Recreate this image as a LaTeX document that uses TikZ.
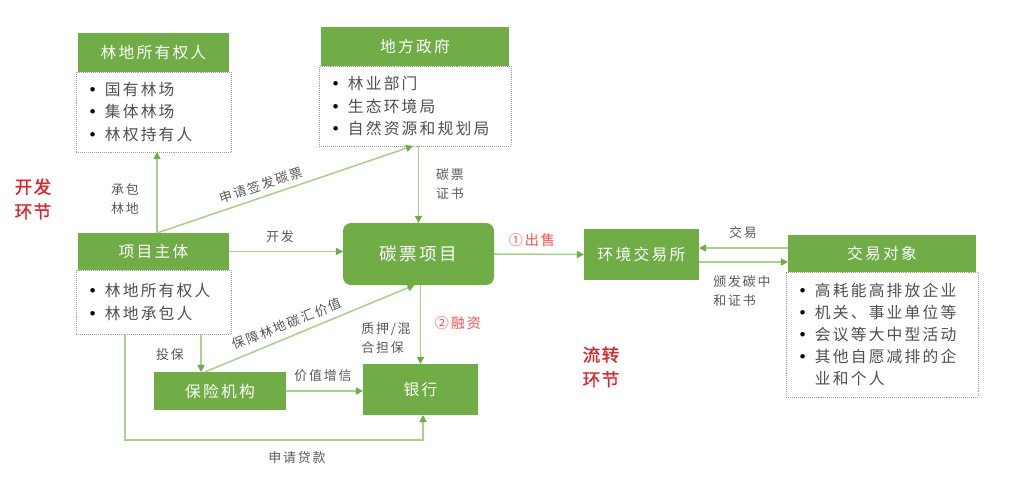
\documentclass[tikz,border=0pt]{standalone}
\usepackage{fontspec}
\setmainfont{Noto Sans CJK SC}[LetterSpace=14]
\newfontfamily\cjkb{Noto Sans CJK SC}[LetterSpace=8,FakeBold=1.2]
\newfontfamily\dejavu{DejaVu Sans}
\usetikzlibrary{arrows.meta,calc}
\definecolor{hgreen}{HTML}{70AD47}
\definecolor{lgreen}{HTML}{A9D18E}
\definecolor{lbltxt}{HTML}{595959}
\definecolor{bodytxt}{HTML}{505050}
\definecolor{bigred}{HTML}{D9272E}
\definecolor{smallred}{HTML}{FF4F4F}
\newcommand\pxu{0.025cm}
\newcommand\bitem[1]{\makebox[12pt][l]{\textcolor{black}{\dejavu\fontsize{11}{11}\selectfont •}}#1}
\tikzset{
  hdr/.style={fill=hgreen, draw=none, text=white, inner sep=0pt, outer sep=0pt,
    font=\fontsize{11.2}{13}\selectfont},
  bodybox/.style={draw=gray!75, densely dotted, fill=white, inner xsep=8.5pt, inner ysep=0pt,
    outer sep=0pt, align=left, text=bodytxt, font=\fontsize{11.2}{15.7}\selectfont},
  conn/.style={draw=lgreen, line width=1.1pt,
    -{Triangle[length=5pt,width=5pt,color=hgreen,fill=hgreen]}},
  lbl/.style={text=lbltxt, inner sep=0pt, align=center, font=\fontsize{9.2}{13}\selectfont},
  redbig/.style={text=bigred, inner sep=0pt, align=center, font=\cjkb\fontsize{12.5}{17.5}\selectfont},
  redsmall/.style={text=smallred, inner sep=0pt, font=\fontsize{10}{12}\selectfont},
}
\begin{document}
\begin{tikzpicture}[x=0.025cm, y=-0.025cm]
\useasboundingbox[fill=white] (0,0) rectangle (1024,488);

% ---- 林地所有权人
\node[hdr, minimum width=151*\pxu, minimum height=39*\pxu] (ownh) at (153.5,52.5) {林地所有权人};
\node[bodybox, minimum width=151*\pxu, minimum height=80*\pxu, text width=131*\pxu, anchor=north] (ownb) at (ownh.south)
  {\bitem{国有林场}\\\bitem{集体林场}\\\bitem{林权持有人}};

% ---- 地方政府
\node[hdr, minimum width=188*\pxu, minimum height=39*\pxu] (govh) at (415,46.5) {地方政府};
\node[bodybox, minimum width=188*\pxu, minimum height=80*\pxu, text width=168*\pxu, anchor=north] (govb) at (govh.south)
  {\bitem{林业部门}\\\bitem{生态环境局}\\\bitem{自然资源和规划局}};

% ---- 项目主体
\node[hdr, minimum width=151*\pxu, minimum height=37*\pxu] (projh) at (153.5,251.5) {项目主体};
\node[bodybox, minimum width=151*\pxu, minimum height=64*\pxu, text width=131*\pxu, anchor=north] (projb) at (projh.south)
  {\bitem{林地所有权人}\\\bitem{林地承包人}};

% ---- 碳票项目
\node[hdr, rounded corners=8*\pxu, minimum width=151*\pxu, minimum height=62*\pxu,
  font=\fontsize{12.5}{14}\selectfont] (tp) at (418.5,254) {碳票项目};

% ---- 保险机构 / 银行
\node[hdr, minimum width=132*\pxu, minimum height=38*\pxu] (ins) at (220,391) {保险机构};
\node[hdr, minimum width=115*\pxu, minimum height=51*\pxu] (bank) at (420.5,389.5) {银行};

% ---- 环境交易所
\node[hdr, minimum width=115*\pxu, minimum height=51*\pxu] (env) at (641.5,254.5) {环境交易所};

% ---- 交易对象
\node[hdr, minimum width=188*\pxu, minimum height=37*\pxu] (objh) at (882,253.5) {交易对象};
\node[bodybox, minimum width=188*\pxu, minimum height=125*\pxu, text width=168*\pxu, anchor=north] (objb) at (objh.south)
  {\bitem{高耗能高排放企业}\\\bitem{机关、事业单位等}\\\bitem{会议等大中型活动}\\\bitem{其他自愿减排的企}\\\hspace*{12pt}业和个人};

% ---- connectors
\coordinate (ownx) at ([xshift=3.5*\pxu]projh.north);
\draw[conn] (ownx) -- (ownx |- ownb.south);
\draw[conn] (ownx) -- ([xshift=-2*\pxu]govb.south);
\draw[conn] (govb.south -| tp.north) -- (tp.north);
\draw[conn] (projh.east) -- (projh.east -| tp.west);
\draw[conn] (tp.east) -- (env.west);
\draw[conn] ([yshift=5.5*\pxu]objh.west) -- ([yshift=6.5*\pxu]env.east);
\draw[conn] ([yshift=-7.5*\pxu]env.east) -- ([yshift=-8.5*\pxu]objh.west);
\coordinate (tb) at ([xshift=-19*\pxu]ins.north);
\draw[conn] (tb |- projb.south) -- (tb);
\draw[conn] ([xshift=4*\pxu]tb) -- ([xshift=-4*\pxu]tp.south);
\draw[conn] (tp.south -| bank.north) -- (bank.north);
\draw[conn] (ins.east) -- (ins.east -| bank.west);
\coordinate (lo) at (125,440);
\draw[conn] (lo |- projb.south) -- (lo) -| ([xshift=2.5*\pxu]bank.south);

% ---- labels
\node[lbl] (l1) at (125,199) {承包\\林地};
\node[lbl, rotate=18.2] (l2) at (261,185) {申请签发碳票};
\node[lbl] (l3) at (450,184) {碳票\\证书};
\node[lbl] (l4) at (280,237) {开发};
\node[lbl] (l5) at (170,355) {投保};
\node[lbl, rotate=21.6] (l6) at (287,324) {保障林地碳汇价值};
\node[lbl, align=left, anchor=west] (l7) at (361,338) {质押/混\\合担保};
\node[lbl] (l8) at (323,376) {价值增信};
\node[lbl] (l9) at (297,458) {申请贷款};
\node[lbl] (l10) at (743,233) {交易};
\node[lbl, align=left, anchor=west] (l11) at (713,291) {颁发碳中\\和证书};
\node[redsmall] (r1) at (532,240) {①出售};
\node[redsmall] (r2) at (458,323) {②融资};
\node[redbig] (r3) at (33,199) {开发\\环节};
\node[redbig] (r4) at (601,367) {流转\\环节};
\end{tikzpicture}
\end{document}
